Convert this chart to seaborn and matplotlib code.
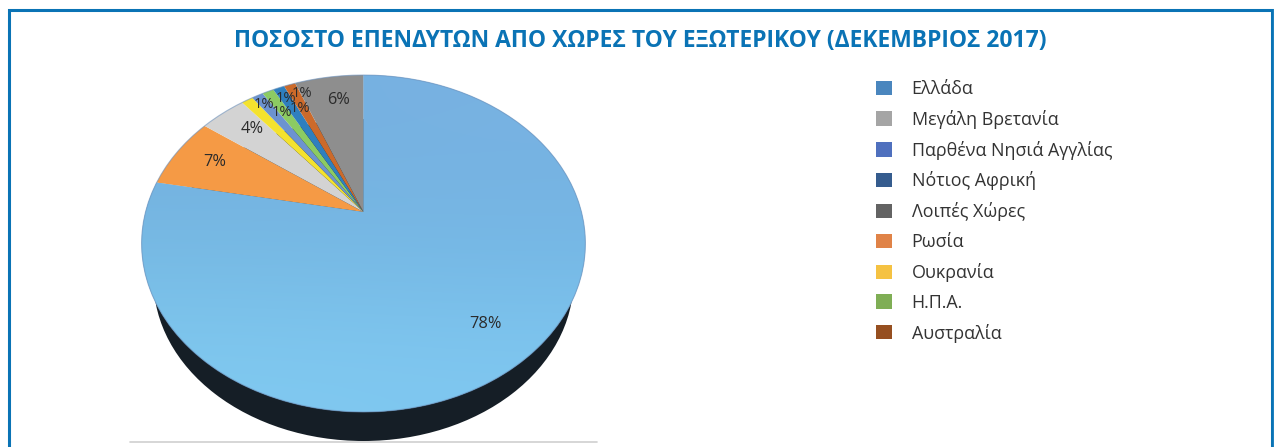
import numpy as np
import matplotlib
matplotlib.use("Agg")
import matplotlib.pyplot as plt
import matplotlib.transforms as mtrans
from matplotlib.path import Path
from matplotlib.patches import Ellipse, Patch, Circle
import seaborn as sns

title = "ΠΟΣΟΣΤΟ ΕΠΕΝΔΥΤΩΝ ΑΠΟ ΧΩΡΕΣ ΤΟΥ ΕΞΩΤΕΡΙΚΟΥ (ΔΕΚΕΜΒΡΙΟΣ 2017)"

# slices, clockwise from the top
slice_names = ["Ελλάδα", "Ρωσία", "Μεγάλη Βρετανία", "Ουκρανία", "Παρθένα Νησιά Αγγλίας",
               "Η.Π.Α.", "Νότιος Αφρική", "Αυστραλία", "Λοιπές Χώρες"]
slice_values = [78, 7, 4, 1, 1, 1, 1, 1, 6]
slice_colors = ["#77B4E2", "#F59A45", "#D3D3D3", "#F4E22E", "#6C93D0",
                "#8CCB62", "#2F7FBE", "#CC6A2A", "#8E8E8E"]

# the legend has its own order and darker colours
legend_names = ["Ελλάδα", "Μεγάλη Βρετανία", "Παρθένα Νησιά Αγγλίας", "Νότιος Αφρική", "Λοιπές Χώρες",
                "Ρωσία", "Ουκρανία", "Η.Π.Α.", "Αυστραλία"]
legend_colors = ["#4A86BE", "#A5A5A5", "#4F70BE", "#355C8E", "#636363",
                 "#E08347", "#F5C242", "#7FAE55", "#964F20"]

# label placement on the disc (radius, shift in degrees)
label_radius = [0.78, 0.80, 0.81, 0.93, 0.82, 0.92, 0.805, 0.916, 0.82]
label_shift = [0, 1.7, 2.6, 3.5, 3.3, 4, 2.9, 2.6, 1.5]

BLUE = "#0A73B5"
APEX_X, APEX_Y = 363.5, 212
SCALE_X, SCALE_Y, TILT = 218, 162.6, 0.187


class Tilted(mtrans.Transform):
    # perspective view of the unit disc, result is in pixels of the reference
    input_dims = output_dims = 2
    is_separable = False
    has_inverse = False

    def transform_non_affine(self, values):
        values = np.asarray(values, dtype=float)
        w = 1 + TILT * values[:, 1]
        return np.column_stack([APEX_X + SCALE_X * values[:, 0] / w,
                                APEX_Y - SCALE_Y * values[:, 1] / w])

    def transform_path_non_affine(self, path):
        # flatten the curves first, control points do not survive the perspective
        pts = []
        for curve, code in path.iter_bezier():
            if code == Path.MOVETO or curve.degree == 0:
                pts.append(curve.control_points[:1])
            else:
                pts.append(curve(np.linspace(0, 1, 14))[1:])
        pts = np.vstack(pts)
        return Path(self.transform_non_affine(pts))


sns.set_theme(style="white")
plt.rcParams["font.family"] = ["Open Sans", "DejaVu Sans"]

fig = plt.figure(figsize=(12.74, 4.47), dpi=100)
ax = fig.add_axes([0, 0, 1, 1])

# dark side of the disc, under everything
ax_side = Ellipse((363.5, 280), 420, 322, facecolor="#151E26", edgecolor="none", zorder=1)

palette = sns.color_palette(slice_colors)
wedges, texts, autotexts = ax.pie(slice_values, colors=palette, startangle=90, counterclock=False,
                                  autopct="%d%%", pctdistance=0.78, labels=None,
                                  textprops={"fontsize": 11.8, "color": "#2B2B2B"})
tilted = Tilted() + ax.transData
for wedge in wedges:
    wedge.set_transform(tilted)
    wedge.set_zorder(3)
    wedge.set_linewidth(0)

# move the percent labels to where they sit in the chart
total = sum(slice_values)
running = 0
for i, label in enumerate(autotexts):
    mid = 360 * (running + slice_values[i] / 2) / total + label_shift[i]
    running += slice_values[i]
    label.set_position((label_radius[i] * np.sin(np.radians(mid)), label_radius[i] * np.cos(np.radians(mid))))
    label.set_transform(tilted)
    label.set_va("center_baseline")
    label.set_zorder(6)
    if slice_values[i] == 1:
        label.set_fontsize(10.6)

ax.set_aspect("auto")
ax.set_xlim(0, 1274)
ax.set_ylim(447, 0)
ax.set_axis_on()
ax.set_frame_on(False)
ax.add_patch(ax_side)

# soft shading of the big slice
shade = np.array([[[118, 176, 224], [120, 178, 226]],
                  [[117, 184, 226], [116, 182, 228]],
                  [[128, 201, 240], [127, 199, 240]]], dtype=float) / 255
img = ax.imshow(shade, extent=(141, 586, 413, 75), interpolation="bicubic", aspect="auto", zorder=4)
img.set_clip_path(wedges[0])
ax.set_xlim(0, 1274)
ax.set_ylim(447, 0)

# rim of the disc
rim = Circle((0, 0), 1, facecolor="none", edgecolor="#6E92BC", linewidth=0.8, alpha=0.6,
             transform=tilted, zorder=5)
ax.add_patch(rim)

# floor line and frame of the page
ax.plot([130, 597], [441.5, 441.5], color="#D0D0D0", linewidth=1.2, zorder=0)
ax.plot([8.5, 8.5, 1271.5, 1271.5], [447, 9.5, 9.5, 447], color=BLUE, linewidth=2.2,
        solid_joinstyle="miter", zorder=0)
ax.plot([1273.5, 1273.5], [9, 447], color="#7CC0EA", linewidth=1, zorder=0)

ax.text(640, 38.5, title, color=BLUE, fontsize=16.45, fontweight="bold", ha="center", va="center_baseline",
        family=["Open Sans", "DejaVu Sans"])

handles = [Patch(facecolor=c, edgecolor="none", label=n) for n, c in zip(legend_names, legend_colors)]
leg = ax.legend(handles=handles, loc="upper left", bbox_to_anchor=(867 / 1274, 1 - 71 / 447), frameon=False,
                fontsize=12.9, handlelength=0.885, handleheight=0.85, handletextpad=1.1,
                labelspacing=0.66, borderpad=0.5, borderaxespad=0)
for t in leg.get_texts():
    t.set_color("#333333")
    t.set_fontweight(500)

ax.set_xticks([])
ax.set_yticks([])
fig.savefig("out.png", dpi=100, facecolor="white")
